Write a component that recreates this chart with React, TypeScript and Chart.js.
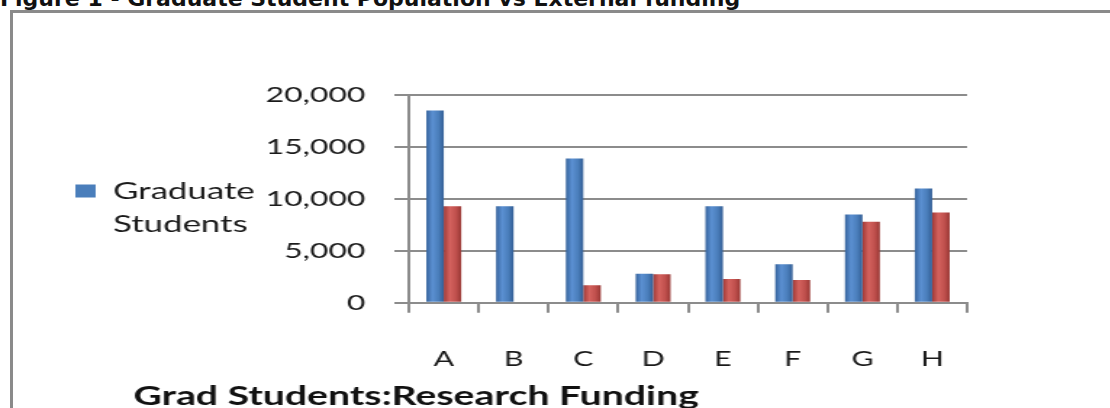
import React, { useEffect, useRef } from 'react';
import { Chart, registerables } from 'chart.js';

Chart.register(...registerables);

const categories = ['A', 'B', 'C', 'D', 'E', 'F', 'G', 'H'];
const gradStudents = [18500, 9300, 13900, 2800, 9300, 3700, 8500, 11000];
const researchFunding = [9300, 100, 1700, 2750, 2300, 2200, 7800, 8700];
const yTickValues = [0, 5000, 10000, 15000, 20000];
const seriesNames = ['Graduate Students', 'Research Funding'];
const legendLines = ['Graduate', 'Students'];
const axisTitle = 'Grad Students:Research Funding';
const figureTitle = 'Figure 1 - Graduate Student Population vs External funding';

const STRETCH = 1.45;
const CW = 756;
const CH = 395;
const FONT = 'Lato';

const BLUE = ['#36639c', '#5b90d2', '#4a7ebb', '#335e95'];
const RED = ['#9f3936', '#d4625e', '#c0504d', '#983734'];

function cylinder(c: string[]) {
  return (ctx: any) => {
    const el = ctx.element;
    if (!el || typeof el.x !== 'number' || !isFinite(el.x) || !el.width) return c[2];
    const g = ctx.chart.ctx.createLinearGradient(el.x - el.width / 2, 0, el.x + el.width / 2, 0);
    g.addColorStop(0, c[0]);
    g.addColorStop(0.35, c[1]);
    g.addColorStop(0.7, c[2]);
    g.addColorStop(1, c[3]);
    return g;
  };
}

const axisTitlePlugin = {
  id: 'axisTitleText',
  afterDraw(chart: any) {
    const { ctx, chartArea } = chart;
    ctx.save();
    ctx.font = `bold 27px ${FONT}`;
    ctx.fillStyle = '#111111';
    ctx.textAlign = 'center';
    ctx.textBaseline = 'middle';
    ctx.fillText(axisTitle, chartArea.left + 5, chart.height - 12);
    ctx.restore();
  },
};

export default function App() {
  const ref = useRef<HTMLCanvasElement | null>(null);

  useEffect(() => {
    if (!ref.current) return;
    const gridColor = '#8c8c8c';
    const chart = new Chart(ref.current, {
      type: 'bar',
      data: {
        labels: categories,
        datasets: [
          {
            label: seriesNames[0],
            data: gradStudents,
            backgroundColor: cylinder(BLUE) as any,
            borderWidth: 0,
            categoryPercentage: 0.5,
            barPercentage: 1,
          },
          {
            label: seriesNames[1],
            data: researchFunding,
            backgroundColor: cylinder(RED) as any,
            borderWidth: 0,
            categoryPercentage: 0.5,
            barPercentage: 1,
          },
        ],
      },
      options: {
        responsive: false,
        animation: false,
        layout: { padding: { left: 34, top: 82, right: 98, bottom: 2 } },
        plugins: {
          tooltip: { enabled: false },
          legend: {
            position: 'left',
            align: 'start',
            title: {
              display: true,
              text: ' ',
              font: { family: FONT, size: 1, lineHeight: 1 },
              padding: 37,
            },
            labels: {
              boxWidth: 14,
              boxHeight: 13,
              padding: 9,
              color: '#1a1a1a',
              font: { family: FONT, size: 24, lineHeight: 1.375 },
              generateLabels: () => [
                {
                  text: legendLines as any,
                  fillStyle: BLUE[2],
                  strokeStyle: BLUE[2],
                  lineWidth: 0,
                  hidden: false,
                  datasetIndex: 0,
                  fontColor: '#1a1a1a',
                } as any,
              ],
            },
          },
        },
        scales: {
          x: {
            grid: {
              offset: true,
              drawOnChartArea: false,
              color: gridColor,
              lineWidth: 2,
              tickLength: 10,
            },
            border: { display: true, color: gridColor, width: 2 },
            ticks: {
              color: '#1a1a1a',
              font: { family: FONT, size: 21 },
              padding: 34,
            },
          },
          y: {
            min: yTickValues[0],
            max: yTickValues[yTickValues.length - 1],
            afterFit: (scale: any) => {
              const lw = scale.chart.legend ? scale.chart.legend.width : 0;
              scale.width = Math.max(10, 273 - 34 - lw);
            },
            afterBuildTicks: (scale: any) => {
              scale.ticks = yTickValues.map((v) => ({ value: v }));
            },
            grid: { color: gridColor, lineWidth: 2, tickLength: 10 },
            border: { display: true, color: gridColor, width: 2 },
            ticks: {
              color: '#1a1a1a',
              font: { family: FONT, size: 22 },
              padding: 20,
              callback: (v: any) => Number(v).toLocaleString('en-US'),
            },
          },
        },
      },
      plugins: [axisTitlePlugin],
    });
    chart.update();
    return () => chart.destroy();
  }, []);

  return (
    <div
      style={{
        position: 'fixed',
        left: 0,
        top: 0,
        width: 1110,
        height: 408,
        overflow: 'hidden',
        background: '#ffffff',
      }}
    >
      <div
        style={{
          position: 'absolute',
          left: 0,
          top: -12,
          whiteSpace: 'nowrap',
          fontFamily: '"DejaVu Sans", sans-serif',
          fontWeight: 'bold',
          fontSize: 22,
          lineHeight: '22px',
          color: '#111',
        }}
      >
        {figureTitle}
      </div>
      <div
        style={{
          position: 'absolute',
          left: 10,
          top: 10,
          width: 1200,
          height: 500,
          border: '3px solid #8a8a8a',
          boxSizing: 'border-box',
        }}
      />
      <div
        style={{
          position: 'absolute',
          left: 13,
          top: 13,
          width: CW,
          height: CH,
          transform: `scaleX(${STRETCH})`,
          transformOrigin: '0 0',
        }}
      >
        <canvas ref={ref} width={CW} height={CH} style={{ width: CW, height: CH }} />
      </div>
    </div>
  );
}
